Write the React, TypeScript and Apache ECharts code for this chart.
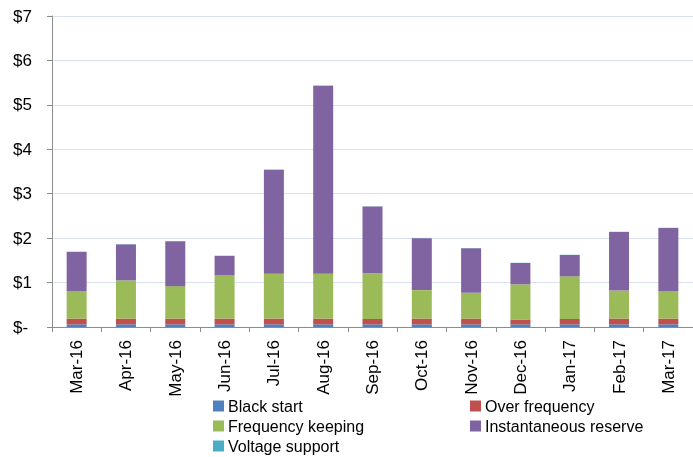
import React, { useEffect, useRef } from "react";
import * as echarts from "echarts";

const months = ["Mar-16", "Apr-16", "May-16", "Jun-16", "Jul-16", "Aug-16", "Sep-16", "Oct-16", "Nov-16", "Dec-16", "Jan-17", "Feb-17", "Mar-17"];
const blackStart = [0.06, 0.06, 0.06, 0.06, 0.06, 0.06, 0.06, 0.06, 0.06, 0.06, 0.06, 0.06, 0.06];
const overFrequency = [0.13, 0.13, 0.13, 0.13, 0.13, 0.13, 0.12, 0.13, 0.13, 0.11, 0.12, 0.13, 0.13];
const frequencyKeeping = [0.62, 0.86, 0.73, 0.97, 1.01, 1.01, 1.03, 0.64, 0.58, 0.79, 0.96, 0.63, 0.62];
const instantaneousReserve = [0.88, 0.81, 1.01, 0.44, 2.34, 4.23, 1.5, 1.17, 1.0, 0.48, 0.48, 1.32, 1.42];
const voltageSupport = [0.005, 0.005, 0.005, 0.005, 0.005, 0.005, 0.005, 0.005, 0.005, 0.005, 0.005, 0.005, 0.005];

const FONT = "Liberation Sans";

export default function App() {
  const ref = useRef<HTMLDivElement>(null);
  useEffect(() => {
    if (!ref.current) return;
    const chart = echarts.init(ref.current, null, { renderer: "svg" });
    const mk = (name: string, data: number[], color: string) => ({
      name,
      type: "bar",
      stack: "total",
      data,
      barWidth: 20,
      itemStyle: { color },
    });
    const legendBase = {
      orient: "vertical",
      top: 391,
      height: 100,
      itemGap: 0,
      itemWidth: 11,
      itemHeight: 11,
      icon: "rect",
      textStyle: { fontSize: 16, color: "#000", lineHeight: 20, fontFamily: FONT, padding: [0, 0, 0, -1] },
    };
    chart.setOption({
      animation: false,
      textStyle: { fontFamily: FONT },
      grid: { left: 52, top: 16, width: 645, bottom: 130, containLabel: false },
      legend: [
        { ...legendBase, data: ["Black start", "Frequency keeping", "Voltage support"], left: 208 },
        { ...legendBase, data: ["Over frequency", "Instantaneous reserve"], left: 465 },
      ],
      xAxis: {
        type: "category",
        data: months,
        axisLine: { lineStyle: { color: "#8c8c8c", width: 1 } },
        axisTick: { show: true, length: 5, lineStyle: { color: "#8c8c8c" } },
        axisLabel: { rotate: 90, fontSize: 17, color: "#000", margin: 13, fontFamily: FONT },
      },
      yAxis: {
        type: "value",
        min: 0,
        max: 7,
        interval: 1,
        axisLine: { show: true, lineStyle: { color: "#8c8c8c", width: 1 } },
        axisTick: { show: true, length: 5, lineStyle: { color: "#8c8c8c" } },
        splitLine: { lineStyle: { color: "#d9e0f0", width: 1 } },
        axisLabel: {
          fontSize: 17,
          color: "#000",
          align: "left",
          margin: 39,
          fontFamily: FONT,
          formatter: (v: number) => (v === 0 ? "$-" : "$" + v),
        },
      },
      series: [
        mk("Black start", blackStart, "#4f81bd"),
        mk("Over frequency", overFrequency, "#c0504d"),
        mk("Frequency keeping", frequencyKeeping, "#9bbb59"),
        mk("Instantaneous reserve", instantaneousReserve, "#8064a2"),
        mk("Voltage support", voltageSupport, "#4bacc6"),
      ],
    });
    return () => chart.dispose();
  }, []);
  return <div ref={ref} style={{ position: "fixed", left: 0, top: 0, width: 693, height: 457 }} />;
}
